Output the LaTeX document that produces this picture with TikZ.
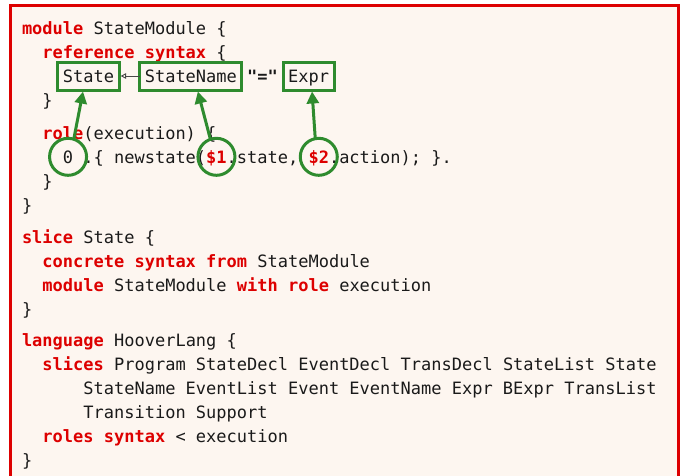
\documentclass[tikz,border=0pt]{standalone}
\usepackage{fontspec}
\setmonofont{DejaVu Sans Mono}
\usetikzlibrary{arrows.meta}
\definecolor{kwred}{HTML}{DD0000}
\definecolor{framered}{HTML}{DD0000}
\definecolor{ggreen}{HTML}{2E8B2E}
\definecolor{bgbeige}{HTML}{FDF6F0}
\definecolor{txt}{HTML}{1A1A1A}
\newcommand\kw[1]{\textcolor{kwred}{\bfseries #1}}
\begin{document}
\begin{tikzpicture}[x=1pt,y=-1pt,
  every node/.style={font=\ttfamily\fontsize{17}{24}\selectfont, text=txt},
  codeline/.style={anchor=base west, inner sep=0pt, outer sep=0pt},
  gbox/.style={draw=ggreen, line width=3pt, anchor=base, inner xsep=5pt, inner ysep=4pt,
    text height=16pt, text depth=4pt, outer sep=0pt},
  plain/.style={anchor=base, inner sep=0pt, outer sep=0pt},
  gcirc/.style={circle, draw=ggreen, line width=3pt, anchor=base, inner sep=0pt,
    text height=12.4pt, text depth=0pt, minimum size=37pt, outer sep=0pt},
  garrow/.style={draw=ggreen, line width=3pt, -{Triangle[length=12pt,width=12pt]}},
  tarrow/.style={draw=txt!80, line width=0.9pt, -{Triangle[open,length=5.5pt,width=5.5pt]}, shorten >=1.5pt},
  frame/.style={draw=framered, line width=3pt, fill=bgbeige}
]
\useasboundingbox (0,0) rectangle (681,475);
\draw[frame] (10,5) rectangle (678,485);
% block 1
\node[codeline] (l1) at (22,34) {\kw{module} StateModule \{};
\node[codeline] (l2) at ({22+2*10.234},58) {\kw{reference syntax} \{};
\node[gbox] (st) at ({22+6.5*10.234},82) {State};
\node[gbox] (sn) at ({22+16.5*10.234},82) {StateName};
\node[plain] (eq) at ({22+23.5*10.234},82) {\bfseries "="};
\node[gbox] (ex) at ({22+28*10.234},82) {Expr};
\node[codeline] (l4) at ({22+2*10.234},106) {\}};
\node[codeline] (l5) at ({22+2*10.234},139) {\kw{role}(execution) \{};
\node[codeline] (l6a) at ({22+6*10.234},163) {.\{ newstate(};
\node[codeline] (l6b) at ({22+20*10.234},163) {.state,};
\node[codeline] (l6c) at ({22+30*10.234},163) {.action); \}.};
\node[gcirc] (z) at ({22+4.5*10.234},163) {0};
\node[gcirc] (d1) at ({22+19*10.234},163) {\kw{\$1}};
\node[gcirc] (d2) at ({22+29*10.234},163) {\kw{\$2}};
\node[codeline] (l7) at ({22+2*10.234},187) {\}};
\node[codeline] (l8) at (22,211) {\}};
% block 2
\node[codeline] (l9) at (22,243) {\kw{slice} State \{};
\node[codeline] (l10) at ({22+2*10.234},267) {\kw{concrete syntax from} StateModule};
\node[codeline] (l11) at ({22+2*10.234},291) {\kw{module} StateModule \kw{with role} execution};
\node[codeline] (l12) at (22,315) {\}};
% block 3
\node[codeline] (l13) at (22,346) {\kw{language} HooverLang \{};
\node[codeline] (l14) at ({22+2*10.234},370) {\kw{slices} Program StateDecl EventDecl TransDecl StateList State};
\node[codeline] (l15) at ({22+6*10.234},394) {StateName EventList Event EventName Expr BExpr TransList};
\node[codeline] (l16) at ({22+6*10.234},418) {Transition Support};
\node[codeline] (l17) at ({22+2*10.234},442) {\kw{roles syntax} < execution};
\node[codeline] (l18) at (22,466) {\}};
% connectors
\draw[tarrow] (sn.west) -- (st.east);
\draw[garrow] (z.72) -- ([xshift=-5.5pt,yshift=-1.5pt]st.south);
\draw[garrow] (d1.109) -- ([xshift=7pt,yshift=-1.5pt]sn.south);
\draw[garrow] (d2.101) -- ([xshift=3.5pt,yshift=-1.5pt]ex.south);
\end{tikzpicture}
\end{document}
